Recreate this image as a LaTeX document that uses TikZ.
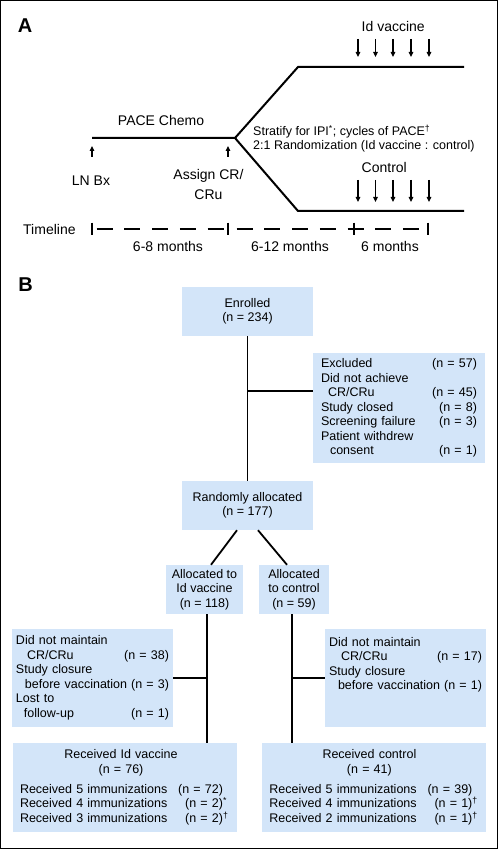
\documentclass[tikz,border=0pt]{standalone}
\usepackage{fontspec}
\setmainfont{Liberation Sans}
\usepackage{tikz}
\usetikzlibrary{arrows.meta,positioning}
\definecolor{boxblue}{RGB}{211,229,249}
\setlength{\parindent}{0pt}

\begin{document}
\begin{tikzpicture}[x=1pt,y=-1pt,
			arm/.style={line width=2pt},
			flow/.style={line width=1.8pt},
			tickmark/.style={line width=2pt},
			tiparrow/.style={line width=1.2pt,-{Triangle[length=5pt,width=4.5pt]}},
			box/.style={fill=boxblue,inner sep=0pt,align=center},
			listbox/.style={fill=boxblue,inner xsep=4pt,inner ysep=0pt,align=left}]
			\tikzstyle{every node}=[inner sep=0pt, font=\fontsize{12.5}{14.5}\selectfont]
			\useasboundingbox (0,0) rectangle (498,850);
			\draw[line width=1pt] (0.5,0.5) rectangle (497.5,848.5);

			\node[font=\fontsize{20}{20}\selectfont\bfseries] (labA) at (25,26) {A};
			\node[font=\fontsize{20}{20}\selectfont\bfseries] (labB) at (25.5,284.5) {B};

			\coordinate (lnbx) at (92,138);
			\coordinate (split) at (235,138);
			\coordinate (vacstart) at (298,67);
			\coordinate (vacend) at (464,67);
			\coordinate (constart) at (298,211);
			\coordinate (conend) at (464,211);
			\draw[arm] (lnbx) -- (split) -- (vacstart) -- (vacend);
			\draw[arm] (split) -- (constart) -- (conend);

			\foreach \x in {358,375.5,393,411,429} {
				\draw[tiparrow] (\x,39) -- (\x,57);
				\draw[tiparrow] (\x,180) -- (\x,202);
			}
			\draw[tiparrow] ([yshift=-19pt]lnbx) -- ([yshift=-8pt]lnbx);
			\draw[tiparrow] ([xshift=-7pt,yshift=-19pt]split) -- ([xshift=-7pt,yshift=-8pt]split);

			\coordinate (t0) at (92,228.5);
			\coordinate (t1) at (228,228.5);
			\coordinate (t2) at (354.3,228.5);
			\coordinate (t3) at (428,228.5);
			\foreach \t in {t0,t1,t2,t3}
				\draw[tickmark] ([yshift=6pt]\t) -- ([yshift=-6pt]\t);
			\draw[arm,dash pattern=on 16pt off 11.7pt] ([xshift=4.7pt]t0) -- ([xshift=-3pt]t1);
			\draw[arm,dash pattern=on 16pt off 11.7pt] ([xshift=8.7pt]t1) -- ([xshift=-9pt]t3);

			\begin{scope}[nodes={font=\fontsize{14}{20}\selectfont}]
				\node[anchor=base west] (vaclab) at (361.5,31.7) {Id vaccine};
				\node[anchor=base west] (conlab) at (361.5,172.7) {Control};
				\node[anchor=base] (chemo) at (161,126) {PACE Chemo};
				\node[anchor=base] (bxlab) at (91,186) {LN Bx};
				\node[align=center] (assign) at (208.5,184.3) {Assign CR/\\CRu};
				\node[anchor=base west] (timeline) at (23,234) {Timeline};
				\node[anchor=base] (span1) at (168,251.7) {6-8 months};
				\node[anchor=base] (span2) at (290,251.7) {6-12 months};
				\node[anchor=base] (span3) at (390,251.7) {6 months};
			\end{scope}
			\node[anchor=west,align=left,font=\fontsize{12.5}{13.3}\selectfont] (strat) at (253,138.3)
				{Stratify for IPI\textsuperscript{*}; cycles of PACE\textsuperscript{\textdagger}\\2:1 Randomization (Id vaccine : control)};

			\node[box,minimum width=131pt,minimum height=49pt] (enrolled) at (247.5,311.5) {Enrolled\\(n = 234)};
			\node[listbox,inner xsep=8pt,text width=156pt,minimum height=110pt] (excluded) at (399,408) {%
				Excluded\hfill(n = 57)\\
				Did not achieve\\
				\hspace*{7pt}CR/CRu\hfill(n = 45)\\
				Study closed\hfill(n = 8)\\
				Screening failure\hfill(n = 3)\\
				Patient withdrew\\
				\hspace*{9pt}consent\hfill(n = 1)};
			\node[box,minimum width=131pt,minimum height=49pt] (random) at (247.5,505.5) {Randomly allocated\\(n = 177)};
			\node[box,minimum width=77pt,minimum height=49pt] (allocvac) at (204.5,589.5) {Allocated to\\Id vaccine\\(n = 118)};
			\node[box,minimum width=70pt,minimum height=49pt] (alloccon) at (294,589.5) {Allocated\\to control\\(n = 59)};
			\node[listbox,text width=153pt,minimum height=98pt] (vacloss) at (92.5,678) {%
				Did not maintain\\
				\hspace*{11pt}CR/CRu\hfill(n = 38)\\
				Study closure\\
				\hspace*{9pt}before vaccination\hfill(n = 3)\\
				Lost to\\
				\hspace*{8pt}follow-up\hfill(n = 1)};
			\node[listbox,text width=153pt,minimum height=98pt] (conloss) at (405.5,678) {%
				Did not maintain\\
				\hspace*{12pt}CR/CRu\hfill(n = 17)\\
				Study closure\\
				\hspace*{9pt}before vaccination\hfill(n = 1)\\
				\mbox{}\\
				\mbox{}};
			\node[listbox,inner xsep=7pt,text width=210pt,minimum height=89pt] (vacgot) at (125,787.5) {%
				{\centering Received Id vaccine\makebox[8pt]{}\\(n = 76)\makebox[8pt]{}\par}\vspace{5.5pt}
				Received 5 immunizations\hfill(n = 72)\makebox[7pt][l]{}\\
				Received 4 immunizations\hfill(n = 2)\makebox[7pt][l]{\textsuperscript{*}}\\
				Received 3 immunizations\hfill(n = 2)\makebox[7pt][l]{\textsuperscript{\textdagger}}};
			\node[listbox,inner xsep=7pt,text width=210pt,minimum height=89pt,right=25pt of vacgot] (congot) {%
				{\centering Received control\makebox[10pt]{}\\(n = 41)\makebox[10pt]{}\par}\vspace{5.5pt}
				Received 5 immunizations\hfill(n = 39)\makebox[7pt][l]{}\\
				Received 4 immunizations\hfill(n = 1)\makebox[7pt][l]{\textsuperscript{\textdagger}}\\
				Received 2 immunizations\hfill(n = 1)\makebox[7pt][l]{\textsuperscript{\textdagger}}};

			\draw[flow] (enrolled) -- (random);
			\path (enrolled.south) ++(0,55) coordinate (exjoin);
			\draw[flow] (exjoin) -- (exjoin -| excluded.west);
			\draw[flow] ([xshift=-10.5pt]random.south) -- ([xshift=6.5pt]allocvac.north);
			\draw[flow] ([xshift=10.5pt]random.south) -- ([xshift=-7pt]alloccon.north);
			\coordinate (vactop) at ([xshift=2.5pt]allocvac.south);
			\coordinate (contop) at ([xshift=-2pt]alloccon.south);
			\draw[flow] (vactop) -- (vactop |- vacgot.north);
			\draw[flow] (contop) -- (contop |- congot.north);
			\draw[flow] (vactop |- vacloss.east) -- (vacloss.east);
			\draw[flow] (contop |- conloss.west) -- (conloss.west);

		\end{tikzpicture}
\end{document}
